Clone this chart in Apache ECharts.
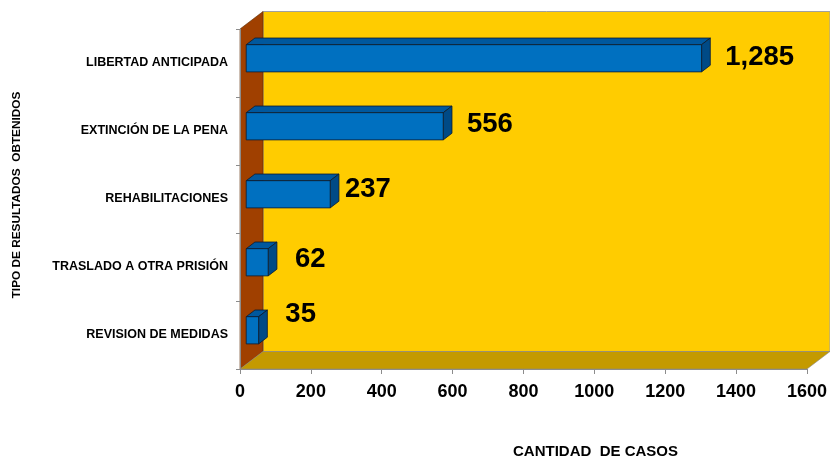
<!DOCTYPE html>
<html>
<head>
<meta charset="utf-8">
<script src="https://cdn.jsdelivr.net/npm/echarts@6/dist/echarts.min.js"></script>
<style>
html,body{margin:0;padding:0;background:#fff;}
#chart{width:830px;height:458px;}
</style>
</head>
<body>
<div id="chart"></div>
<script>
// ---- data ----
const CATEGORIES = ['LIBERTAD ANTICIPADA', 'EXTINCIÓN DE LA PENA', 'REHABILITACIONES', 'TRASLADO A OTRA PRISIÓN', 'REVISION DE MEDIDAS'];
const VALUES = [1285, 556, 237, 62, 35];
const VALUE_LABELS = ['1,285', '556', '237', '62', '35'];
const X_TICKS = [0, 200, 400, 600, 800, 1000, 1200, 1400, 1600];
const X_TITLE = 'CANTIDAD  DE CASOS';
const Y_TITLE = 'TIPO DE RESULTADOS  OBTENIDOS';

// ---- layout / style ----
const FONT = '"Liberation Sans", Arial, sans-serif';
const DX = 23, DY = -17.5;      // 3D depth of the walls
const F1 = 0.27, F2 = 0.65;     // bar front/back depth fractions
const LABEL_NUDGE = [[0, -0.5], [0, -1.5], [-9, -5], [3, -3], [3, -16]];

const chart = echarts.init(document.getElementById('chart'), null, {renderer: 'canvas'});

function wallsRender(params, api) {
  const cs = params.coordSys;
  const x0 = cs.x, y0 = cs.y, x1 = cs.x + cs.width, y1 = cs.y + cs.height;
  return {
    type: 'group',
    children: [
      {type: 'rect', shape: {x: x0 + DX, y: y0 + DY, width: cs.width, height: cs.height},
       style: {fill: '#FFCC00', stroke: '#A0A0A0', lineWidth: 1}},
      {type: 'polygon', shape: {points: [[x0, y0], [x0 + DX, y0 + DY], [x0 + DX, y1 + DY], [x0, y1]]},
       style: {fill: '#A04000', stroke: '#5a2a00', lineWidth: 0.6}},
      {type: 'polygon', shape: {points: [[x0, y1], [x0 + DX, y1 + DY], [x1 + DX, y1 + DY], [x1, y1]]},
       style: {fill: '#C49A00', stroke: '#8a8a8a', lineWidth: 0.6}}
    ]
  };
}

function barRender(params, api) {
  const v = api.value(0), c = api.value(1);
  const s = api.coord([0, c]);
  const e = api.coord([v, c]);
  const band = api.size([0, 1])[1];
  const h = band * 0.4;
  const fx = s[0] + F1 * DX;
  const fy = s[1] + F1 * DY - h / 2;
  const w = e[0] - s[0];
  const ddx = (F2 - F1) * DX, ddy = (F2 - F1) * DY;
  const edge = {stroke: '#0b1a2e', lineWidth: 0.8, lineJoin: 'round'};
  const nudge = LABEL_NUDGE[params.dataIndex] || [0, 0];
  return {
    type: 'group',
    children: [
      {type: 'polygon', shape: {points: [[fx, fy], [fx + ddx, fy + ddy], [fx + w + ddx, fy + ddy], [fx + w, fy]]},
       style: Object.assign({fill: '#00589E'}, edge)},
      {type: 'polygon', shape: {points: [[fx + w, fy], [fx + w + ddx, fy + ddy], [fx + w + ddx, fy + h + ddy], [fx + w, fy + h]]},
       style: Object.assign({fill: '#004A86'}, edge)},
      {type: 'rect', shape: {x: fx, y: fy, width: w, height: h},
       style: Object.assign({fill: '#0070C0'}, edge)},
      {type: 'text', x: fx + w + ddx + 15 + nudge[0], y: fy + h / 2 + nudge[1],
       style: {text: VALUE_LABELS[params.dataIndex], fill: '#000', font: 'bold 27.5px ' + FONT,
               textAlign: 'left', textVerticalAlign: 'middle'}}
    ]
  };
}

const option = {
  animation: false,
  backgroundColor: '#ffffff',
  grid: {left: 240, right: 23, top: 29, bottom: 89, containLabel: false},
  xAxis: {
    type: 'value', min: X_TICKS[0], max: X_TICKS[X_TICKS.length - 1], interval: X_TICKS[1] - X_TICKS[0],
    z: 10,
    axisLine: {show: true, lineStyle: {color: '#8c8c8c', width: 1}},
    axisTick: {show: true, length: 5, inside: false, lineStyle: {color: '#8c8c8c'}},
    splitLine: {show: false},
    axisLabel: {color: '#000', fontFamily: FONT, fontWeight: 'bold', fontSize: 18, margin: 14,
                formatter: v => String(v)}
  },
  yAxis: {
    type: 'category', data: CATEGORIES, inverse: true, z: 10,
    axisLine: {show: true, lineStyle: {color: '#8c8c8c', width: 1}},
    axisTick: {show: true, length: 4, lineStyle: {color: '#8c8c8c'}},
    splitLine: {show: false},
    axisLabel: {color: '#000', fontFamily: FONT, fontWeight: 'bold', fontSize: 12.5, margin: 12,
                padding: [3, 0, 0, 0]}
  },
  graphic: [
    {type: 'text', left: 513, top: 444, style: {text: X_TITLE, fill: '#000', font: 'bold 15px ' + FONT}},
    {type: 'text', x: 17, y: 195, rotation: Math.PI / 2,
     style: {text: Y_TITLE, fill: '#000', font: 'bold 11.8px ' + FONT, textAlign: 'center', textVerticalAlign: 'middle'}}
  ],
  series: [
    {type: 'custom', z: 1, silent: true, renderItem: wallsRender, data: [[0, 0]], clip: false},
    {type: 'custom', z: 3, renderItem: barRender, clip: false,
     data: VALUES.map((v, i) => [v, i])}
  ]
};
chart.setOption(option);
</script>
</body>
</html>
